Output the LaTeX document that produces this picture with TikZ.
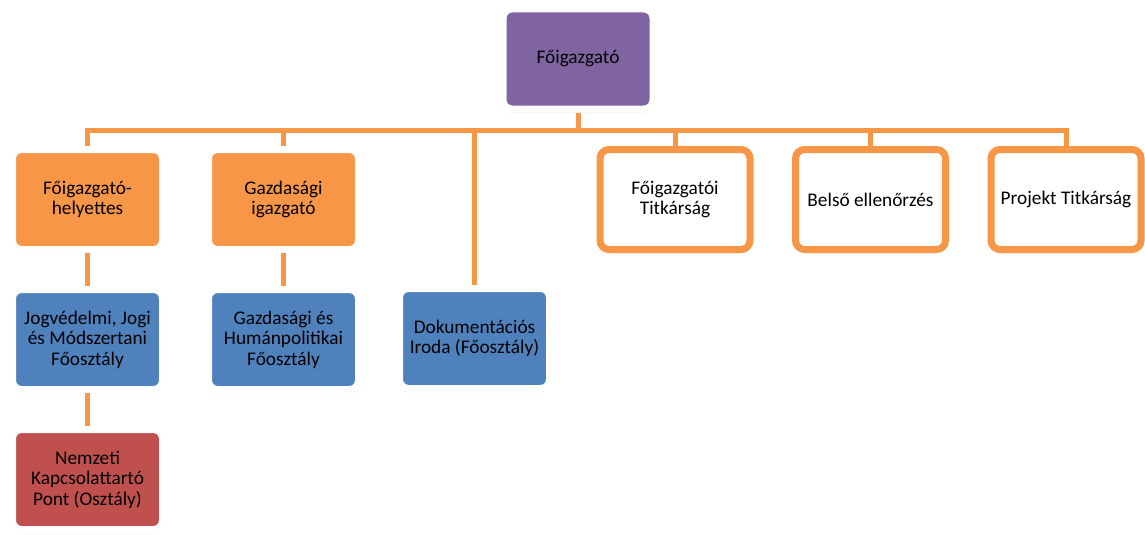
\documentclass[tikz,border=0pt]{standalone}
\usepackage{fontspec}
\setmainfont{Carlito}
\usetikzlibrary{calc}
\usetikzlibrary{positioning}
\usetikzlibrary{shadows}
\definecolor{orgfill}{RGB}{247,150,70}
\definecolor{purpfill}{RGB}{128,100,162}
\definecolor{bluefill}{RGB}{79,129,189}
\definecolor{redfill}{RGB}{192,80,77}
\tikzstyle{unit} = [rectangle, rounded corners=9pt, minimum width=150pt, minimum height=100pt, inner sep=0pt, line width=7pt, align=center, text=black, font=\fontsize{19.3}{20.5}\selectfont, drop shadow={opacity=0.3, shadow xshift=0pt, shadow yshift=-3.5pt}]
\tikzstyle{boxnode} = [unit, draw=white]
\tikzstyle{framenode} = [unit, draw=orgfill, fill=white]
\tikzstyle{conn} = [draw=orgfill, line width=5pt]

\begin{document}
\begin{tikzpicture}[x=1pt, y=1pt]
  \useasboundingbox (0,0) rectangle (1145,-535);
  \node[boxnode, fill=purpfill] (fo) at (578,-59) {Főigazgató};
  \node[boxnode, fill=orgfill] (hely) at (87.5,-199.5) {Főigazgató-\\helyettes};
  \node[boxnode, fill=orgfill] (gazd) at (283.5,-199.5) {Gazdasági\\igazgató};
  \node[framenode] (titk) at (675,-199.5) {Főigazgatói\\Titkárság};
  \node[framenode] (bels) at (870.5,-199.5) {Belső ellenőrzés};
  \node[framenode] (proj) at (1066,-199.5) {Projekt Titkárság};
  \node[boxnode, fill=bluefill, below=33pt of hely] (jog) {Jogvédelmi, Jogi\\és Módszertani\\Főosztály};
  \node[boxnode, fill=bluefill, below=33pt of gazd] (human) {Gazdasági és\\Humánpolitikai\\Főosztály};
  \node[boxnode, fill=bluefill] (doku) at (474.5,-338.5) {Dokumentációs\\Iroda (Főosztály)};
  \node[boxnode, fill=redfill, below=33pt of jog] (nemz) {Nemzeti\\Kapcsolattartó\\Pont (Osztály)};

  \foreach \c in {hely, gazd, doku, titk, bels, proj}
    \draw[conn] (fo.south) -- ++(0,-17.5) -| (\c.north);
  \draw[conn] (hely) -- (jog);
  \draw[conn] (jog) -- (nemz);
  \draw[conn] (gazd) -- (human);
\end{tikzpicture}
\end{document}
